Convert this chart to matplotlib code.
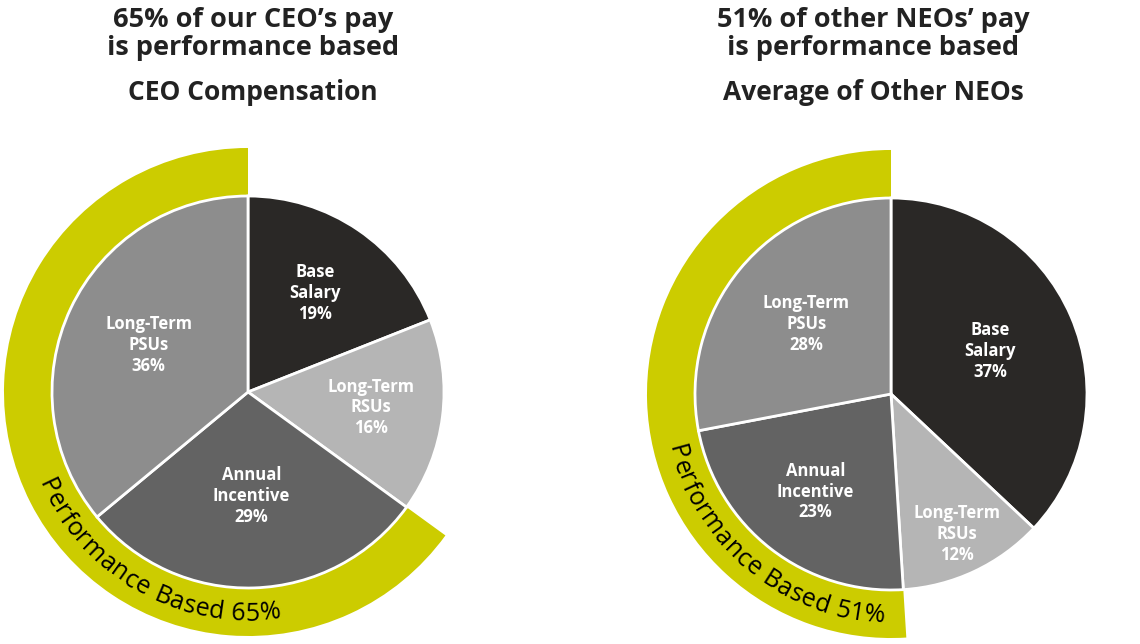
import matplotlib
matplotlib.use('Agg')
import matplotlib.pyplot as plt
import numpy as np

plt.rcParams['font.family'] = ['Open Sans', 'DejaVu Sans']

# data
components = ['Base\nSalary', 'Long-Term\nRSUs', 'Annual\nIncentive', 'Long-Term\nPSUs']
ceo_pct = [19, 16, 29, 36]
neo_pct = [37, 12, 23, 28]
ceo_perf = 65
neo_perf = 51
ceo_title = ['65% of our CEO\u2019s pay', 'is performance based']
neo_title = ['51% of other NEOs\u2019 pay', 'is performance based']
ceo_sub = 'CEO Compensation'
neo_sub = 'Average of Other NEOs'

slice_colors = ['#2a2826', '#b5b5b5', '#636363', '#8d8d8d']
ring_color = '#cccc00'
text_dark = '#222222'

W, H = 1140, 644
R_PX = 196.0          # pie radius in pixels
RING = 1.245          # outer radius of the yellow ring
HALF = 262.0          # half size of each axes in pixels

fig = plt.figure(figsize=(W / 100, H / 100), dpi=100)
renderer = fig.canvas.get_renderer()


def text_adv(s, **kw):
    t = fig.text(0, 0, s + '|', **kw)
    w = t.get_window_extent(renderer).width
    t.remove()
    t = fig.text(0, 0, '|', **kw)
    w0 = t.get_window_extent(renderer).width
    t.remove()
    return w - w0


def curved_text(ax, s, mid_angle, r_px, track=0.0, **kw):
    adv = [text_adv(s[:i], **kw) + i * track for i in range(len(s) + 1)]
    total = adv[-1] - track
    for i, ch in enumerate(s):
        c = (adv[i] + adv[i + 1] - track) / 2 - total / 2
        ang = mid_angle + np.degrees(c / r_px)
        r = r_px / R_PX
        ax.text(r * np.cos(np.radians(ang)), r * np.sin(np.radians(ang)), ch,
                rotation=ang + 90, rotation_mode='anchor',
                ha='center', va='center', **kw)


def panel(cx, cy, tx, values, perf, title, sub, label_dist, text_mid):
    ax = fig.add_axes([(cx - HALF) / W, (H - cy - HALF) / H, 2 * HALF / W, 2 * HALF / H])
    ax.pie([100 - perf, perf], colors=['none', ring_color], startangle=90,
           counterclock=False, radius=RING,
           wedgeprops=dict(width=RING - 1, edgecolor='none'))
    wedges, _ = ax.pie(values, colors=slice_colors, startangle=90, counterclock=False,
                       radius=1, wedgeprops=dict(edgecolor='white', linewidth=2))
    for w, name, v, d in zip(wedges, components, values, label_dist):
        a = np.radians((w.theta1 + w.theta2) / 2)
        ax.text(d * np.cos(a), d * np.sin(a), f'{name}\n{v}%', ha='center', va='center',
                color='white', fontsize=12, fontweight='bold', linespacing=1.2)
    curved_text(ax, f'Performance Based {perf}%', text_mid, 222, track=0.3,
                fontsize=18, color='black')
    lim = HALF / R_PX
    ax.set_xlim(-lim, lim)
    ax.set_ylim(-lim, lim)
    ax.axis('off')

    for line, base in zip(title, [27, 55]):
        fig.text(tx / W, 1 - base / H, line, ha='center', va='baseline',
                 fontsize=19.5, fontweight='bold', color=text_dark)
    fig.text(tx / W, 1 - 100 / H, sub, ha='center', va='baseline',
             fontsize=19, fontweight='bold', color=text_dark)


panel(248, 392, 253, ceo_pct, ceo_perf, ceo_title, ceo_sub,
      [0.61, 0.63, 0.53, 0.56], 241)
panel(891, 394, 873, neo_pct, neo_perf, neo_title, neo_sub,
      [0.55, 0.79, 0.63, 0.56], 231)

fig.savefig('out.png', dpi=100)
